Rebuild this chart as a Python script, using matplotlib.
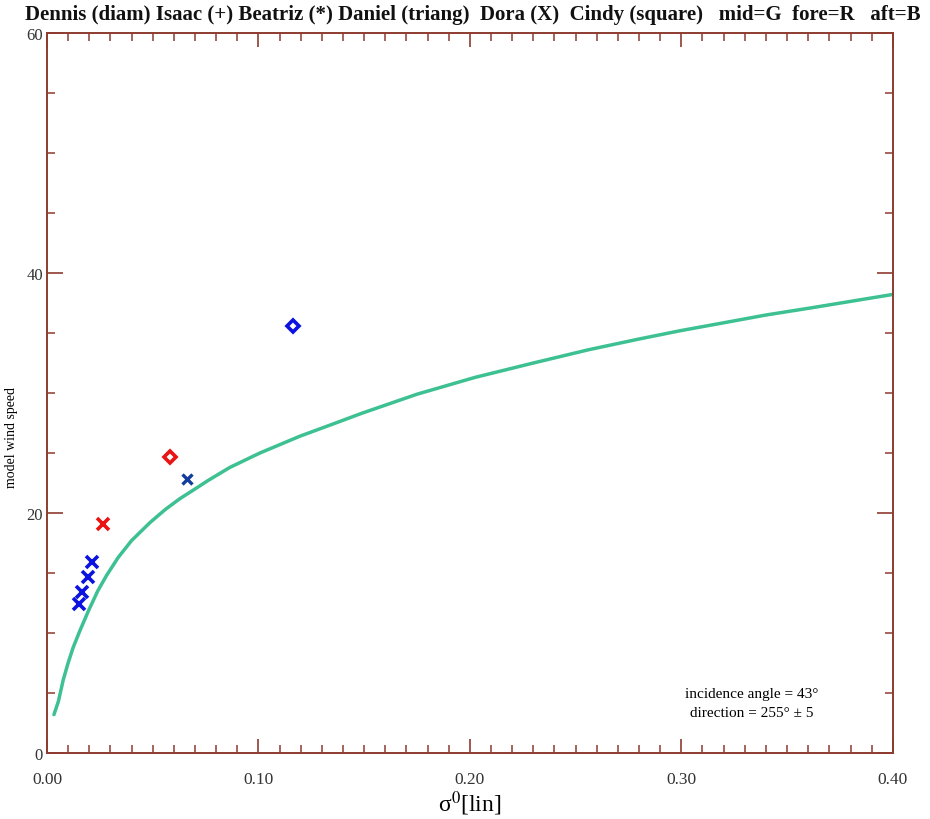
import matplotlib

matplotlib.use("Agg")
import matplotlib.pyplot as plt
from matplotlib.ticker import MultipleLocator, FixedFormatter, FixedLocator

# model wind speed vs sigma0 (green curve)
curve_sigma = [0.0033, 0.0054, 0.0077, 0.0100, 0.0124, 0.0156, 0.0195, 0.0240, 0.0282,
               0.0337, 0.0400, 0.0487, 0.0560, 0.0629, 0.0700, 0.0761, 0.0865, 0.1007,
               0.1196, 0.1350, 0.1487, 0.1750, 0.2024, 0.2300, 0.2560, 0.2800, 0.2997,
               0.3215, 0.3400, 0.3615, 0.3995]
curve_speed = [3.2, 4.3, 6.1, 7.5, 8.8, 10.2, 11.8, 13.5, 14.8,
               16.3, 17.7, 19.2, 20.3, 21.2, 22.0, 22.7, 23.8, 25.0,
               26.4, 27.4, 28.3, 29.9, 31.3, 32.5, 33.6, 34.5, 35.2,
               35.9, 36.5, 37.1, 38.2]

# Dora (X)
dora_aft_sigma = [0.0153, 0.0164, 0.0195, 0.0211]
dora_aft_speed = [12.4, 13.45, 14.7, 15.9]
dora_fore_sigma = [0.0266]
dora_fore_speed = [19.05]
dora_aft2_sigma = [0.0663]
dora_aft2_speed = [22.8]

# Dennis (diam)
dennis_fore_sigma = [0.058]
dennis_fore_speed = [24.65]
dennis_aft_sigma = [0.1165]
dennis_aft_speed = [35.55]

x_ticks = [0.0, 0.1, 0.2, 0.3, 0.4]
x_tick_labels = ["0.00", "0.10", "0.20", "0.30", "0.40"]
y_ticks = [0, 20, 40, 60]

title = ("Dennis (diam) Isaac (+) Beatriz (*) Daniel (triang)  Dora (X)  "
         "Cindy (square)   mid=G  fore=R   aft=B")

SERIF = ["Liberation Serif", "DejaVu Serif"]
AXIS_COLOR = "#8e3b30"
GREEN = "#3dc192"
BLUE = "#0c12e0"
DARK_BLUE = "#133c9c"
RED = "#ea1414"

plt.rcParams["font.family"] = SERIF
plt.rcParams["mathtext.fontset"] = "stix"

fig = plt.figure(figsize=(9.3, 8.2), dpi=100)
ax = fig.add_axes([0.0505, 0.0805, 0.9095, 0.878])

ax.plot(curve_sigma, curve_speed, color=GREEN, linewidth=2.5,
        solid_capstyle="round", solid_joinstyle="round")

x_kw = dict(linestyle="none", marker="x", markersize=8, markeredgewidth=2.6)
ax.plot(dora_aft_sigma, dora_aft_speed, color=BLUE, **x_kw)
ax.plot(dora_fore_sigma, dora_fore_speed, color=RED, **x_kw)
ax.plot(dora_aft2_sigma, dora_aft2_speed, color=DARK_BLUE, markersize=7, markeredgewidth=2.4,
        linestyle="none", marker="x")

d_kw = dict(linestyle="none", marker="D", markersize=6.5, markeredgewidth=2.6,
            markerfacecolor="none")
ax.plot(dennis_fore_sigma, dennis_fore_speed, color=RED, **d_kw)
ax.plot(dennis_aft_sigma, dennis_aft_speed, color=BLUE, **d_kw)

ax.set_xlim(0, 0.4)
ax.set_ylim(0, 60)

for side in ax.spines.values():
    side.set_color(AXIS_COLOR)
    side.set_linewidth(1.4)

ax.xaxis.set_major_locator(FixedLocator(x_ticks))
ax.xaxis.set_major_formatter(FixedFormatter(x_tick_labels))
ax.xaxis.set_minor_locator(MultipleLocator(0.01))
ax.yaxis.set_major_locator(FixedLocator(y_ticks))
ax.yaxis.set_minor_locator(MultipleLocator(5))

ax.tick_params(axis="both", which="both", direction="in", color=AXIS_COLOR,
               top=True, right=True, labelcolor="#333333")
ax.tick_params(axis="x", which="major", length=10, width=1.2, pad=13, labelsize=12.5)
ax.tick_params(axis="x", which="minor", length=5.5, width=1.1)
ax.tick_params(axis="y", which="major", length=11.5, width=1.2, pad=3, labelsize=12)
ax.tick_params(axis="y", which="minor", length=6, width=1.1)

# the 40 tick is drawn grey and dashed in the original
for t in ax.yaxis.get_major_ticks():
    if abs(t.get_loc() - 40) < 1e-6:
        for ln in (t.tick1line, t.tick2line):
            ln.set_color("#bbbbbb")
            ln.set_linestyle((0, (2, 2)))

ax.set_ylabel("model wind speed", fontsize=10)
ax.yaxis.set_label_coords(-0.034, 0.44)
ax.set_xlabel("σ$^{0}$[lin]", fontsize=17, labelpad=1)

ax.text(0.833, 0.082, "incidence angle = 43°", transform=ax.transAxes,
        ha="center", va="center", fontsize=11)
ax.text(0.833, 0.056, "direction = 255° ± 5", transform=ax.transAxes,
        ha="center", va="center", fontsize=11)

fig.text(0.508, 0.982, title, ha="center", va="center", fontsize=15, fontweight="bold",
         color="#111111")

fig.savefig("out.png", dpi=100)
